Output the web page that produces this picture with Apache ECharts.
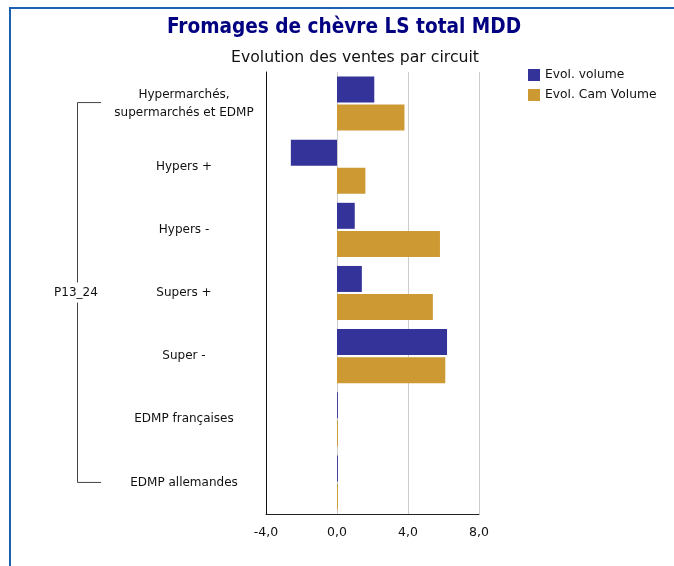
<!DOCTYPE html>
<html>
<head>
<meta charset="utf-8">
<script src="https://cdn.jsdelivr.net/npm/echarts@6/dist/echarts.min.js"></script>
<style>
  html, body { margin: 0; padding: 0; background: #fff; }
  #chart { width: 674px; height: 566px; }
</style>
</head>
<body>
<div id="chart"></div>
<script>
// Sales channels (top to bottom)
const categories = [
  'Hypermarchés,\nsupermarchés et EDMP',
  'Hypers +',
  'Hypers -',
  'Supers +',
  'Super -',
  'EDMP françaises',
  'EDMP allemandes'
];
const groupLabel = 'P13_24';

// Evolution values (%)
const evolVolume    = [2.1, -2.6, 1.0, 1.4, 6.2, 0.05, 0.05];
const evolCamVolume = [3.8, 1.6, 5.8, 5.4, 6.1, 0.05, 0.05];

const seriesNames = ['Evol. volume', 'Evol. Cam Volume'];
const xTicks = { min: -4, max: 8, interval: 4 };

const FONT = '"DejaVu Sans", Verdana, sans-serif';
const TITLE_FONT = '"DejaVu Sans Condensed", "DejaVu Sans", sans-serif';
const chart = echarts.init(document.getElementById('chart'));

chart.setOption({
  animation: false,
  backgroundColor: '#fff',
  title: [
    {
      text: 'Fromages de chèvre LS total MDD',
      left: 339, top: 12, textAlign: 'center',
      textStyle: { fontFamily: TITLE_FONT, fontSize: 20.6, fontWeight: 'bold', color: '#000080' }
    },
    {
      text: 'Evolution des ventes par circuit',
      left: 350, top: 45, textAlign: 'center',
      textStyle: { fontFamily: FONT, fontSize: 15.7, fontWeight: 'normal', color: '#111' }
    }
  ],
  legend: {
    orient: 'vertical',
    left: 523, top: 64,
    itemWidth: 12, itemHeight: 12, itemGap: 8,
    icon: 'rect',
    textStyle: { fontFamily: FONT, fontSize: 12.3, color: '#111' },
    data: seriesNames
  },
  grid: { left: 266, right: 195, top: 72, bottom: 52, containLabel: false },
  xAxis: {
    type: 'value',
    min: xTicks.min, max: xTicks.max, interval: xTicks.interval,
    axisLine: { show: true, onZero: false, lineStyle: { color: '#222', width: 1 } },
    axisTick: { show: false },
    splitLine: { show: true, lineStyle: { color: '#cccccc', width: 1 } },
    axisLabel: {
      fontFamily: FONT, fontSize: 12.5, color: '#111', margin: 12,
      formatter: v => v.toFixed(1).replace('.', ',')
    }
  },
  yAxis: {
    type: 'category',
    inverse: true,
    data: categories,
    axisLine: { show: true, onZero: false, lineStyle: { color: '#111', width: 1 } },
    axisTick: { show: false },
    axisLabel: {
      fontFamily: FONT, fontSize: 12, color: '#111',
      align: 'center', margin: 82, lineHeight: 18
    }
  },
  series: [
    {
      name: seriesNames[0], type: 'bar', data: evolVolume,
      barWidth: 26, barGap: '8%',
      itemStyle: { color: '#333399' }
    },
    {
      name: seriesNames[1], type: 'bar', data: evolCamVolume,
      barWidth: 26, barGap: '8%',
      itemStyle: { color: '#CC9933' }
    }
  ]
});

// Group bracket spanning all channels, with its label
const yTop = chart.convertToPixel({ yAxisIndex: 0 }, 0) - 1;
const yBot = chart.convertToPixel({ yAxisIndex: 0 }, categories.length - 1);
const yMid = (yTop + yBot) / 2;
const bx = 77.5, bEnd = 101;
const lineStyle = { stroke: '#444', lineWidth: 1 };
chart.setOption({
  graphic: [
    { type: 'rect', shape: { x: 10, y: 8, width: 700, height: 600 },
      style: { fill: null, stroke: '#1f5fb3', lineWidth: 2 }, silent: true },
    { type: 'polyline', shape: { points: [[bEnd, yTop], [bx, yTop], [bx, yMid - 10]] }, style: lineStyle },
    { type: 'polyline', shape: { points: [[bx, yMid + 10], [bx, yBot], [bEnd, yBot]] }, style: lineStyle },
    { type: 'text', x: 76, y: yMid, style: {
        text: groupLabel, fontFamily: FONT, fontSize: 12, fill: '#111',
        textAlign: 'center', textVerticalAlign: 'middle' } }
  ]
});
</script>
</body>
</html>
